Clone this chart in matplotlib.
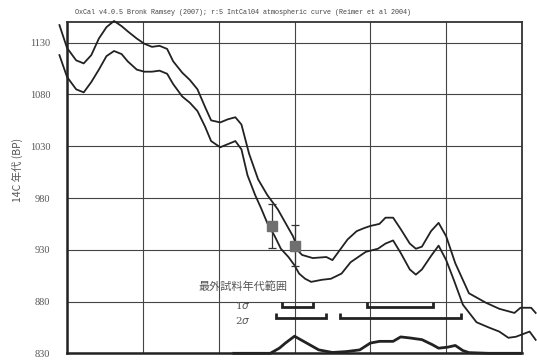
#!/usr/bin/env python3
# -*- coding: utf-8 -*-
import matplotlib
matplotlib.use('Agg')
import matplotlib.pyplot as plt
import numpy as np

plt.rcParams['font.family'] = ['Noto Sans CJK JP', 'DejaVu Sans']

TITLE = 'OxCal v4.0.5 Bronk Ramsey (2007); r:5 IntCal04 atmospheric curve (Reimer et al 2004)'
YLABEL = '14C 年代 (BP)'

# calibration curve, cal AD (x axis has no labels)
cal_x = [845, 850, 856, 861, 866, 871, 876, 881, 886, 890, 896, 901, 906, 911, 916,
         920, 926, 931, 936, 941, 945, 951, 956, 961, 965]
upper_a = [1147, 1125, 1113, 1110, 1118, 1134, 1145, 1151, 1146, 1141, 1134, 1129, 1126, 1127, 1124,
           1112, 1101, 1094, 1085, 1068, 1055, 1053, 1056, 1058, 1051]
lower_a = [1118, 1097, 1085, 1082, 1092, 1104, 1117, 1122, 1119, 1112, 1104, 1102, 1102, 1103, 1100,
           1090, 1078, 1072, 1064, 1049, 1035, 1029, 1032, 1035, 1027]

upper_x2 = [970, 976, 982, 989, 994, 999, 1003, 1005, 1012, 1021, 1025, 1030, 1035, 1041, 1046,
            1050, 1056, 1060, 1065, 1070, 1076, 1080, 1084, 1090, 1095, 1100, 1106, 1115, 1126,
            1135, 1145, 1149, 1156, 1159]
upper_b = [1023, 998, 983, 969, 956, 943, 928, 925, 922, 923, 920, 930, 940, 948, 951,
           953, 955, 961, 961, 950, 936, 931, 933, 948, 956, 943, 917, 888, 879,
           873, 869, 874, 874, 869]
lower_x2 = [969, 974, 978, 982, 987, 991, 996, 1000, 1003, 1007, 1011, 1018, 1024, 1031, 1037,
            1047, 1055, 1060, 1065, 1070, 1076, 1080, 1084, 1090, 1095, 1100, 1105, 1111, 1120,
            1128, 1135, 1141, 1146, 1155, 1159]
lower_b = [1002, 983, 970, 956, 943, 931, 923, 915, 907, 902, 899, 901, 902, 907, 918,
           928, 931, 936, 939, 927, 911, 906, 911, 924, 934, 920, 901, 877, 860,
           855, 851, 845, 846, 851, 843]

# probability distribution along the bottom
prob_x = [960, 984, 990, 994, 1000, 1008, 1016, 1025, 1034, 1043, 1050, 1056, 1065, 1070,
          1076, 1084, 1091, 1095, 1101, 1106, 1111, 1115, 1128, 1149]
prob = [0, 0, 0.30, 0.60, 1.0, 0.60, 0.20, 0.05, 0.10, 0.20, 0.60, 0.70, 0.70, 0.96,
        0.90, 0.80, 0.50, 0.30, 0.36, 0.46, 0.16, 0.04, 0, 0]

# measured dates
date_x = [985, 1000]
date_bp = [953, 934]
date_err = [21, 20]

# ranges
sig1 = [(992, 1012), (1048, 1091)]
sig2 = [(988, 1021), (1030, 1110)]


def draw_range(ax, ranges, y, h):
    for a, b in ranges:
        ax.plot([a, a, b, b], [y + h, y, y, y + h], color='#222222', lw=2.0,
                solid_joinstyle='miter', solid_capstyle='butt')


fig = plt.figure(figsize=(5.37, 3.63), dpi=100)
ax = fig.add_axes([0.1248, 0.0267, 0.8473, 0.9127])

ax.plot(cal_x + upper_x2, upper_a + upper_b, color='#222222', lw=1.3, clip_on=False, zorder=3)
ax.plot(cal_x + lower_x2, lower_a + lower_b, color='#222222', lw=1.3, clip_on=False, zorder=3)

ax.plot(prob_x, 830 + np.array(prob) * 16.5, color='#222222', lw=2.0, clip_on=False, zorder=3)

ax.errorbar(date_x, date_bp, yerr=date_err, fmt='none', ecolor='#333333', elinewidth=0.9,
            capsize=3, capthick=0.9, zorder=4)
ax.plot(date_x, date_bp, 's', color='#6f6f6f', ms=7.3, zorder=5)

draw_range(ax, sig1, 875, 5)
draw_range(ax, sig2, 864, 5)

ax.text(966, 894, '最外試料年代範囲', ha='center', va='center', fontsize=8, color='#555555')
ax.text(966, 876, '1$\\sigma$', ha='center', va='center', fontsize=7.5, color='#555555',
        family='DejaVu Serif')
ax.text(966, 862, '2$\\sigma$', ha='center', va='center', fontsize=7.5, color='#555555',
        family='DejaVu Serif')

ax.set_xlim(850, 1150)
ax.set_ylim(830, 1150)
ax.set_xticks(np.arange(850, 1151, 50))
ax.set_yticks(np.arange(830, 1131, 50))
ax.set_xticklabels([])
ax.set_yticklabels([str(v) for v in range(830, 1131, 50)], family='Liberation Serif',
                   fontsize=7.5, color='#555555')
ax.tick_params(length=0, pad=12)
ax.grid(True, color='#444444', lw=0.8)
ax.set_axisbelow(True)

for s in ['left', 'bottom']:
    ax.spines[s].set_linewidth(1.8)
    ax.spines[s].set_color('#222222')
for s in ['top', 'right']:
    ax.spines[s].set_linewidth(1.3)
    ax.spines[s].set_color('#333333')

fig.text(17 / 537, 1 - 170 / 363, YLABEL, rotation=90, ha='center', va='center',
         fontsize=7.5, color='#555555')
fig.text(75 / 537, 1 - 13 / 363, TITLE, ha='left', va='center', fontsize=4.9,
         color='#444444', family='Liberation Mono')

plt.savefig('out.png', dpi=100)
